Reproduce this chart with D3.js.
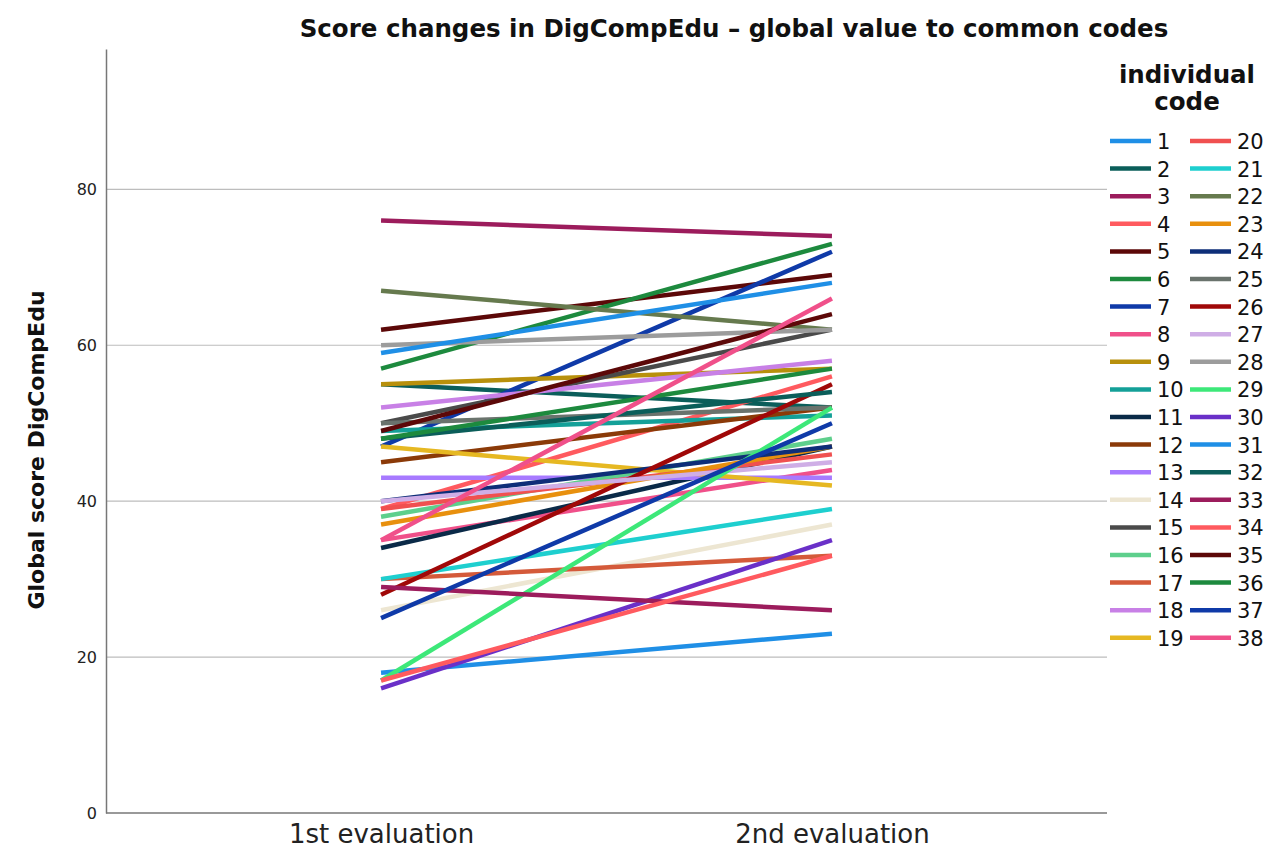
<!DOCTYPE html>
<html>
<head>
<meta charset="utf-8">
<script src="https://cdn.jsdelivr.net/npm/d3@7"></script>
<style>
  body { margin: 0; background: #fff; }
  svg { font-family: "DejaVu Sans", sans-serif; }
</style>
</head>
<body>
<svg width="1276" height="857"></svg>
<script>
const evaluations = ['1st evaluation', '2nd evaluation'];

const codes = d3.range(1, 39);

const firstScores = [18, 55, 76, 39, 62, 57, 47, 35, 55, 49,
                     34, 45, 43, 26, 50, 38, 30, 52, 47, 39,
                     30, 67, 37, 40, 50, 28, 40, 60, 17, 16,
                     59, 48, 29, 17, 49, 48, 25, 35];

const secondScores = [23, 52, 74, 56, 69, 73, 72, 44, 57, 51,
                      47, 52, 43, 37, 62, 48, 33, 58, 42, 46,
                      39, 62, 47, 47, 52, 55, 45, 62, 52, 35,
                      68, 54, 26, 33, 64, 57, 50, 66];

const palette = ['#1f8fe6', '#0b5e5a', '#9c1c5c', '#ff5a5f', '#5c0808',
                 '#1d8a3e', '#0f3aa8', '#f0508a', '#b8900c', '#14a098',
                 '#0a2a48', '#8b3a08', '#a77aff', '#ede6d2', '#4a4a4a',
                 '#5ecf8c', '#d45a3a', '#c880e6', '#e6b822', '#f05050',
                 '#1ecfcf', '#667a4e', '#e8900e', '#0e2e78', '#6a736d',
                 '#a00808', '#cfaee6', '#9c9c9c', '#3de879', '#6a30c8'];

const yTicks = [0, 20, 40, 60, 80];

const svg = d3.select('svg');

const plotLeft = 106, plotRight = 1107, plotTop = 49, plotBottom = 813;

const x = d3.scalePoint().domain(evaluations).range([plotLeft, plotRight]).padding(0.61);
const y = d3.scaleLinear().domain([0, 98]).range([plotBottom, plotTop]);
const color = d3.scaleOrdinal().domain(codes).range(palette);

// gridlines
svg.append('g')
  .selectAll('line')
  .data(yTicks.filter(d => d > 0))
  .enter()
  .append('line')
  .attr('x1', plotLeft)
  .attr('x2', plotRight)
  .attr('y1', d => y(d))
  .attr('y2', d => y(d))
  .attr('stroke', '#bdbdbd')
  .attr('stroke-width', 1.2);

// y axis
const yAxis = svg.append('g')
  .attr('transform', `translate(${plotLeft},0)`)
  .call(d3.axisLeft(y).tickValues(yTicks).tickSize(0).tickPadding(9));
yAxis.select('.domain').attr('stroke', '#777').attr('stroke-width', 1.5);
yAxis.selectAll('text').attr('font-size', 16).attr('fill', '#222')
  .attr('font-family', '"DejaVu Sans", sans-serif');

// x axis
const xAxis = svg.append('g')
  .attr('transform', `translate(0,${plotBottom})`)
  .call(d3.axisBottom(x).tickSize(0).tickPadding(12));
xAxis.select('.domain').attr('stroke', '#777').attr('stroke-width', 1.5)
  .attr('d', `M${plotLeft},0H${plotRight}`);
xAxis.selectAll('text').attr('font-size', 26).attr('fill', '#222')
  .attr('font-family', '"DejaVu Sans", sans-serif');

// lines
const line = d3.line().x(d => x(d.ev)).y(d => y(d.v));
svg.append('g')
  .selectAll('path')
  .data(codes)
  .enter()
  .append('path')
  .attr('d', (c, i) => line([{ev: evaluations[0], v: firstScores[i]}, {ev: evaluations[1], v: secondScores[i]}]))
  .attr('fill', 'none')
  .attr('stroke', c => color(c))
  .attr('stroke-width', 4.5);

// title
svg.append('text')
  .attr('x', 734)
  .attr('y', 37)
  .attr('text-anchor', 'middle')
  .attr('font-size', 24.5)
  .attr('font-weight', 'bold')
  .attr('fill', '#111')
  .text('Score changes in DigCompEdu – global value to common codes');

// y title
svg.append('text')
  .attr('transform', `translate(44,${(plotTop + plotBottom) / 2 + 19}) rotate(-90)`)
  .attr('text-anchor', 'middle')
  .attr('font-size', 22)
  .attr('font-weight', 'bold')
  .attr('fill', '#111')
  .text('Global score DigCompEdu');

// legend
const legend = svg.append('g');
legend.append('text')
  .attr('x', 1187)
  .attr('y', 83)
  .attr('text-anchor', 'middle')
  .attr('font-size', 24.5)
  .attr('font-weight', 'bold')
  .attr('fill', '#111')
  .selectAll('tspan')
  .data(['individual', 'code'])
  .enter()
  .append('tspan')
  .attr('x', 1187)
  .attr('dy', (d, i) => i === 0 ? 0 : 27)
  .text(d => d);

const item = legend.selectAll('g.item')
  .data(codes)
  .enter()
  .append('g')
  .attr('class', 'item')
  .attr('transform', (c, i) => `translate(${1110 + Math.floor(i / 19) * 80},${141 + (i % 19) * 27.6})`);

item.append('line')
  .attr('x1', 0)
  .attr('x2', 41)
  .attr('stroke', c => color(c))
  .attr('stroke-width', 4.5);

item.append('text')
  .attr('x', 47)
  .attr('y', 8)
  .attr('font-size', 21)
  .attr('fill', '#111')
  .text(c => c);
</script>
</body>
</html>
